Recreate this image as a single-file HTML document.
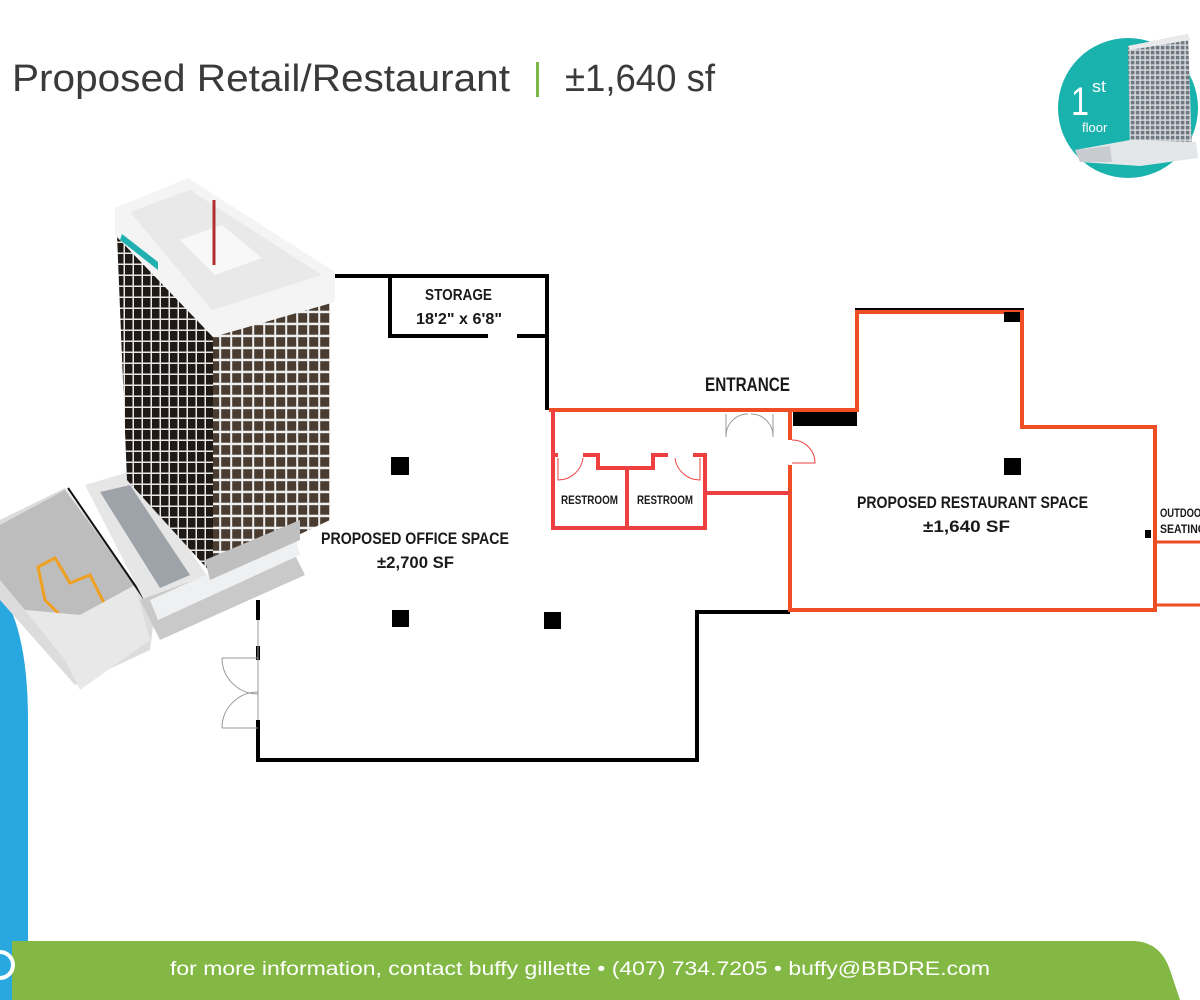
<!DOCTYPE html>
<html><head><meta charset="utf-8"><style>
html,body{margin:0;padding:0;background:#fff;}
svg{display:block;}
.t{font-family:"Liberation Sans",sans-serif;}
.c{font-family:"Liberation Sans",sans-serif;font-weight:bold;fill:#1a1a1a;}
</style></head><body>
<svg width="1200" height="1000" viewBox="0 0 1200 1000" xmlns="http://www.w3.org/2000/svg">
<defs>
<pattern id="winL" x="115" y="0" width="9" height="11" patternUnits="userSpaceOnUse">
<rect width="9" height="11" fill="#e8e8e8"/><rect x="1" y="1" width="7.5" height="9.5" fill="#1f1a16"/></pattern>
<pattern id="winR" x="0" y="0" width="11" height="12" patternUnits="userSpaceOnUse">
<rect width="11" height="12" fill="#eeeeee"/><rect x="1.2" y="1.2" width="9" height="9.5" fill="#4a3c30"/></pattern>
<pattern id="winS" x="0" y="0" width="5" height="5" patternUnits="userSpaceOnUse">
<rect width="5" height="5" fill="#d8dce0"/><rect x="0.8" y="0.8" width="3.6" height="3.6" fill="#6f7780"/></pattern>
</defs>
<rect width="1200" height="1000" fill="#fff"/>

<!-- title -->
<text x="12" y="91" class="t" font-size="38" fill="#3a3a3a" textLength="498" lengthAdjust="spacingAndGlyphs">Proposed Retail/Restaurant</text>
<rect x="536" y="62" width="3" height="35" fill="#7ab648"/>
<text x="565" y="91" class="t" font-size="38" fill="#3a3a3a" textLength="150" lengthAdjust="spacingAndGlyphs">±1,640 sf</text>

<!-- teal badge -->
<circle cx="1128" cy="108" r="70" fill="#19b2ad"/>
<text x="1071" y="115" class="t" font-size="40" fill="#fff" textLength="18" lengthAdjust="spacingAndGlyphs">1</text>
<text x="1092" y="92" class="t" font-size="17" fill="#fff" textLength="14" lengthAdjust="spacingAndGlyphs">st</text>
<text x="1082" y="132" class="t" font-size="13" fill="#fff">floor</text>
<polygon points="1128,46 1188,34 1192,150 1130,152" fill="url(#winS)"/>
<polygon points="1128,46 1188,34 1190,40 1130,50" fill="#e8eaec"/>
<polygon points="1075,150 1130,140 1196,142 1198,158 1140,166 1080,162" fill="#e4e7ea"/>
<polygon points="1075,150 1110,146 1112,162 1080,162" fill="#c8ccd0"/>

<!-- blue arc left -->
<path d="M0,590 Q28,630 28,720 L28,1000 L0,1000 Z" fill="#29a8e0"/>
<!-- green footer -->
<path d="M12,941 L1132,941 Q1160,941 1170,970 L1180,1000 L12,1000 Z" fill="#82b843"/>
<circle cx="0" cy="965" r="13" fill="none" stroke="#fff" stroke-width="4"/>
<text x="580" y="975" class="t" font-size="19" fill="#fff" text-anchor="middle" textLength="820" lengthAdjust="spacingAndGlyphs">for more information, contact buffy gillette  •  (407) 734.7205  •  buffy@BBDRE.com</text>

<!-- floor plan black walls -->
<g fill="none" stroke="#000" stroke-width="4">
<polyline points="333,276 547,276 547,410"/>
<polyline points="390,276 390,336 488,336"/>
<polyline points="517,336 547,336"/>
<polyline points="857,410 857,310 1022,310 1022,427"/>
<polyline points="790,612 697,612 697,760 258,760 258,720"/>
<line x1="258" y1="600" x2="258" y2="620"/>
<line x1="258" y1="646" x2="258" y2="660"/>
</g>
<g fill="none" stroke="#999" stroke-width="1">
<line x1="258" y1="620" x2="258" y2="720"/>
<path d="M258,658 L222,658 M258,728 L222,728 M222,658 A36,36 0 0 0 258,694 M222,728 A36,36 0 0 1 258,692"/>
<path d="M726,414 L726,437 M773,414 L773,437 M726,437 A22,22 0 0 1 748,414 M773,437 A22,22 0 0 0 751,414"/>
</g>

<!-- red/orange restaurant -->
<g fill="none" stroke="#ee4e24" stroke-width="4">
<polyline points="549,410 857,410 857,312 1022,312 1022,427 1155,427 1155,610 790,610 790,465"/>
<line x1="790" y1="410" x2="790" y2="440"/>
<rect x="1155" y="542" width="48" height="63" stroke-width="3"/>
</g>
<g fill="none" stroke="#ee4040" stroke-width="4">
<polyline points="553,410 553,528 705,528 705,455 693,455"/>
<polyline points="558,455 553,455"/>
<polyline points="583,455 598,455 598,468 653,468 653,455 668,455"/>
<line x1="627" y1="468" x2="627" y2="528"/>
<line x1="705" y1="493" x2="790" y2="493"/>
</g>
<g fill="none" stroke="#ee4040" stroke-width="1">
<path d="M558,458 L558,480 A25,25 0 0 0 583,458"/>
<path d="M700,458 L700,480 A25,25 0 0 1 675,458"/>
<path d="M792,440 A23,23 0 0 1 815,463 L792,463"/>
</g>
<!-- columns -->
<g fill="#000">
<rect x="391" y="457" width="18" height="18"/>
<rect x="392" y="610" width="17" height="17"/>
<rect x="544" y="612" width="17" height="17"/>
<rect x="1004" y="458" width="17" height="17"/>
<rect x="1004" y="312" width="16" height="10"/>
<rect x="793" y="412" width="64" height="14"/>
<rect x="1145" y="530" width="6" height="8"/>
</g>

<!-- labels -->
<text x="425" y="300" class="c" font-size="16" textLength="67" lengthAdjust="spacingAndGlyphs">STORAGE</text>
<text x="416" y="324" class="c" font-size="16" textLength="86" lengthAdjust="spacingAndGlyphs">18'2" x 6'8"</text>
<text x="705" y="391" class="c" font-size="19" textLength="85" lengthAdjust="spacingAndGlyphs">ENTRANCE</text>
<text x="561" y="504" class="c" font-size="12" textLength="57" lengthAdjust="spacingAndGlyphs">RESTROOM</text>
<text x="637" y="504" class="c" font-size="12" textLength="56" lengthAdjust="spacingAndGlyphs">RESTROOM</text>
<text x="321" y="544" class="c" font-size="17" textLength="188" lengthAdjust="spacingAndGlyphs">PROPOSED OFFICE SPACE</text>
<text x="377" y="568" class="c" font-size="17" textLength="77" lengthAdjust="spacingAndGlyphs">±2,700 SF</text>
<text x="857" y="508" class="c" font-size="17" textLength="231" lengthAdjust="spacingAndGlyphs">PROPOSED RESTAURANT SPACE</text>
<text x="923" y="532" class="c" font-size="17" textLength="87" lengthAdjust="spacingAndGlyphs">±1,640 SF</text>
<text x="1160" y="517" class="c" font-size="12" textLength="48" lengthAdjust="spacingAndGlyphs">OUTDOOR</text>
<text x="1160" y="533" class="c" font-size="12" textLength="46" lengthAdjust="spacingAndGlyphs">SEATING</text>

<!-- building -->
<!-- low wing -->
<polygon points="0,520 65,488 155,610 150,650 75,685 0,600" fill="#dcdcdc"/>
<polygon points="0,525 65,490 135,585 80,615 25,610 0,580" fill="#bdbdbd"/>
<polygon points="38,567 55,558 70,583 90,575 105,605 88,615 70,625 45,600" fill="none" stroke="#f0a020" stroke-width="3"/>
<polygon points="25,610 80,615 135,585 150,640 80,690 65,660" fill="#e8e8e8"/>
<line x1="68" y1="488" x2="145" y2="600" stroke="#111" stroke-width="2"/>
<polygon points="85,485 135,470 210,580 150,612" fill="#e6e6e6"/>
<polygon points="100,492 130,485 190,575 160,588" fill="#9da3a8"/>
<polygon points="140,600 290,545 305,575 160,640" fill="#c9c9c9"/>
<polygon points="150,600 295,535 300,555 158,620" fill="#eef0f2"/>
<!-- tower -->
<polygon points="117,235 213,337 213,575 127,480" fill="url(#winL)"/>
<polygon points="213,337 330,302 330,520 213,575" fill="url(#winR)"/>
<polygon points="115,208 188,178 335,272 335,302 213,337 115,235" fill="#f4f4f4"/>
<polygon points="130,212 190,190 322,275 212,310" fill="#e9e9e9"/>
<polygon points="180,240 222,225 262,258 215,275" fill="#f8f8f8"/>
<line x1="214" y1="200" x2="214" y2="265" stroke="#b03030" stroke-width="3"/>
<polygon points="120,240 158,270 158,262 122,234" fill="#20b0b0"/>
<polygon points="205,560 300,520 300,540 210,580" fill="#bfbfbf"/>
</svg>
</body></html>
